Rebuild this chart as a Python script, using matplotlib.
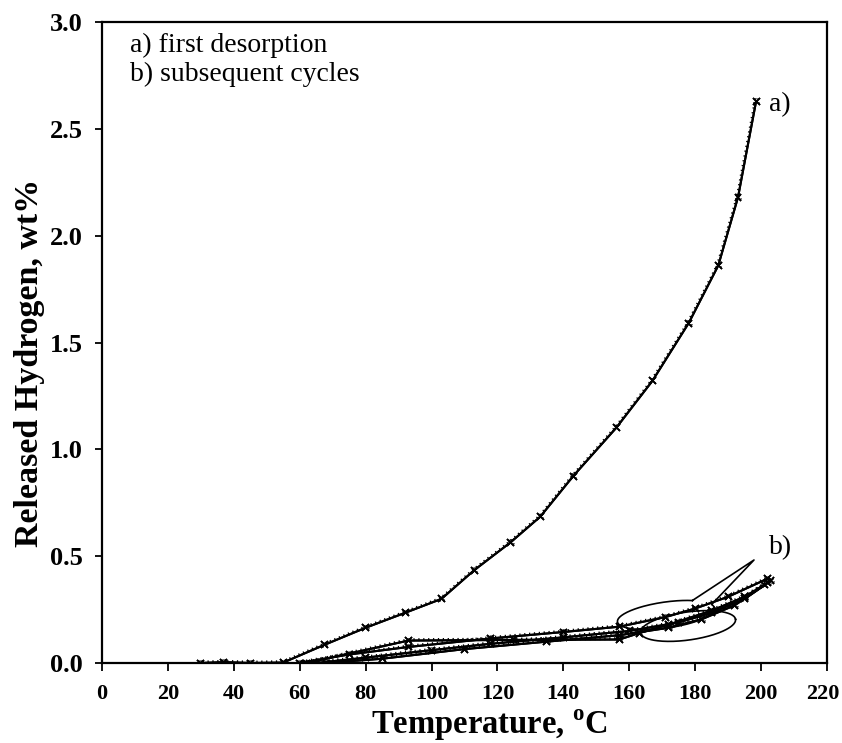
import numpy as np
import matplotlib
matplotlib.use("Agg")
import matplotlib.pyplot as plt
from matplotlib import patheffects as pe
from matplotlib import transforms as mtrans

plt.rcParams['font.family'] = ['Liberation Serif', 'DejaVu Serif']
plt.rcParams['mathtext.fontset'] = 'custom'
plt.rcParams['mathtext.rm'] = 'Liberation Serif'
plt.rcParams['mathtext.bf'] = 'Liberation Serif:bold'

# a) first desorption
a_temp = [30, 37, 45, 55, 67.5, 80, 92, 103, 113, 124, 133, 143, 156, 167, 178, 187, 193, 198.5]
a_wt = [0.0, 0.004, 0.0, 0.002, 0.085, 0.165, 0.235, 0.30, 0.435, 0.565, 0.685, 0.875,
        1.10, 1.32, 1.59, 1.86, 2.18, 2.63]

# b) subsequent cycles
b1_temp = [62, 93, 125, 157, 163, 172, 185, 195, 202]
b1_wt = [0.0, 0.105, 0.108, 0.11, 0.14, 0.18, 0.245, 0.31, 0.375]
b2_temp = [60, 75, 93, 118, 140, 157, 171, 180, 190, 202]
b2_wt = [0.0, 0.04, 0.075, 0.115, 0.145, 0.17, 0.215, 0.255, 0.31, 0.395]
b3_temp = [65, 80, 100, 118, 140, 160, 175, 185, 195, 203]
b3_wt = [0.0, 0.025, 0.06, 0.09, 0.12, 0.15, 0.19, 0.235, 0.30, 0.385]
b4_temp = [68, 85, 110, 135, 157, 172, 182, 192, 201]
b4_wt = [0.0, 0.02, 0.065, 0.10, 0.13, 0.165, 0.205, 0.27, 0.365]

x_ticks = list(range(0, 221, 20))
y_ticks = [0.0, 0.5, 1.0, 1.5, 2.0, 2.5, 3.0]

fig = plt.figure(figsize=(8.42, 7.43), dpi=100)
ax = fig.add_axes([102 / 842, 1 - 663 / 743, 725 / 842, (663 - 22) / 743])
ax.set_xlim(0, 220)
ax.set_ylim(0, 3.0)

hatch = [pe.withTickedStroke(spacing=3.5, length=0.35, angle=90, linewidth=0.9), pe.Normal()]
line_kw = dict(color='black', lw=1.5, marker='x', ms=5, mew=1.2, path_effects=hatch)

ax.plot(a_temp, a_wt, **line_kw)
for t, w in [(b1_temp, b1_wt), (b2_temp, b2_wt), (b3_temp, b3_wt), (b4_temp, b4_wt)]:
    ax.plot(t, w, **line_kw)

ax.set_xticks(x_ticks)
ax.set_yticks(y_ticks)
ax.set_yticklabels([f"{v:.1f}" for v in y_ticks])
ax.tick_params(axis='x', direction='out', length=6, width=1.3, pad=9, labelsize=16)
ax.tick_params(axis='y', direction='out', length=5, width=1.3, pad=9, labelsize=19)
for lab in ax.get_xticklabels() + ax.get_yticklabels():
    lab.set_fontweight('bold')
for s in ax.spines.values():
    s.set_linewidth(1.6)

ax.set_xlabel(r"Temperature, $^{\mathbf{o}}$C", fontsize=23.5, fontweight='bold')
ax.xaxis.set_label_coords(0.535, -0.069)
ax.set_ylabel("Released Hydrogen, wt%", fontsize=24.5, fontweight='bold')
ax.yaxis.set_label_coords(-0.079, 0.468)

ax.text(8.5, 2.89, "a) first desorption", fontsize=20, va='center', ha='left')
ax.text(8.5, 2.755, "b) subsequent cycles", fontsize=20, va='center', ha='left')
ax.text(202.5, 2.615, "a)", fontsize=20, va='center', ha='left')
ax.text(202.5, 0.54, "b)", fontsize=20, va='center', ha='left')

# callout: two ellipses around the cycle bundle, with a pointer towards "b)"
fig.canvas.draw()
# keep the last x tick label inside the figure
last = ax.get_xticklabels()[-1]
last.set_transform(last.get_transform() + mtrans.ScaledTranslation(-4 / 100, 0, fig.dpi_scale_trans))
to_data = ax.transData.inverted()


def ellipse_px(cx, cy, a, b, tilt, t0, t1):
    t = np.radians(np.linspace(t0, t1, 200))
    c, s = np.cos(np.radians(tilt)), np.sin(np.radians(tilt))
    ex, ey = a * np.cos(t), b * np.sin(t)
    return np.column_stack([cx + ex * c - ey * s, cy + ex * s + ey * c])


H = 743
up = ellipse_px(666, H - 615, 49, 13, 8, 55, 18 + 360)
tip = np.array([[754, H - 560]])
pts = np.vstack([up, tip, up[:1]])
d = to_data.transform(pts)
ax.plot(d[:, 0], d[:, 1], color='black', lw=1.2)
lo = ellipse_px(688, H - 626, 48, 14, 8, 0, 360)
d = to_data.transform(lo)
ax.plot(d[:, 0], d[:, 1], color='black', lw=1.2)

fig.savefig("out.png", dpi=100)
